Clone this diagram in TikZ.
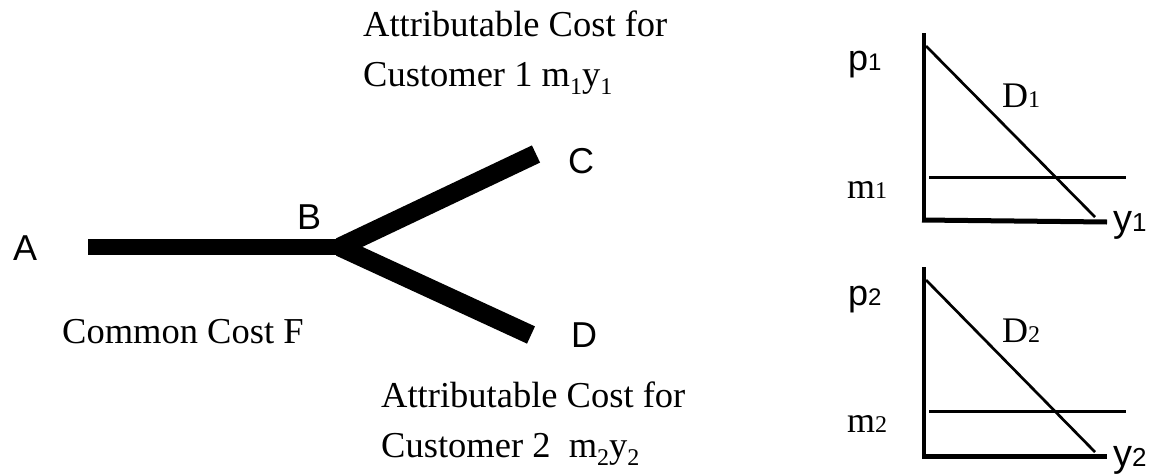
\documentclass[tikz,border=0pt]{standalone}
\usepackage{fontspec}
\setmainfont{Liberation Serif}
\newfontfamily\arialfont{Liberation Sans}
\newcommand\lowsub[1]{\raisebox{-8pt}{\fontsize{24}{24}\selectfont #1}}
\newcommand\flatsub[2]{{\fontsize{#1}{#1}\selectfont #2}}
\begin{document}
\begin{tikzpicture}[x=1pt,y=-1pt,
  serif/.style={inner sep=0pt, anchor=base west, align=left, font=\fontsize{36.5}{50}\selectfont},
  sans/.style={inner sep=0pt, anchor=base west, font=\arialfont\fontsize{36}{40}\selectfont},
  glabel/.style={inner sep=0pt, anchor=base west},
  gsans/.style={glabel, font=\arialfont\fontsize{36}{36}\selectfont},
  gserif/.style={glabel, font=\fontsize{36}{36}\selectfont},
  bar/.style={line width=16pt, line cap=butt},
  branch/.style={line width=19pt, line cap=butt},
  axisline/.style={line width=4.5pt, line cap=butt},
  curveline/.style={line width=2.7pt},
  mline/.style={line width=3pt}]
\useasboundingbox (0,0) rectangle (1153,474);

% labels of the cost tree
\node[sans] (A) at (13,260) {A};
\node[sans] (B) at (297,229) {B};
\node[sans] (C) at (568,173) {C};
\node[sans] (D) at (571,347) {D};

\coordinate (a0) at (88,247);
\coordinate (b0) at (340,247);
\coordinate (c0) at (536,154);
\coordinate (d0) at (531,335);
\draw[bar] (a0) -- (b0);
\draw[branch] (b0) -- (c0);
\draw[branch] (b0) -- (d0);

\node[serif] (top) at (363,86) {Attributable Cost for\\Customer 1 m\lowsub{1}y\lowsub{1}};
\node[serif] (bot) at (381,457) {Attributable Cost for\\Customer 2\ \ m\lowsub{2}y\lowsub{2}};
\node[serif] (common) at (62,343) {Common Cost F};

% graph 1
\coordinate (v1t) at (924,33);
\coordinate (v1b) at (924,222);
\coordinate (h1l) at (922,220);
\coordinate (h1r) at (1107,222);
\coordinate (d1t) at (926,46);
\coordinate (d1b) at (1095,217);
\coordinate (m1l) at (929,177);
\coordinate (m1r) at (1126,177);
\draw[axisline] (v1t) -- (v1b);
\draw[axisline, line width=5pt] (h1l) -- (h1r);
\draw[curveline] (d1t) -- (d1b);
\draw[mline] (m1l) -- (m1r);
\node[gsans] (p1) at (848,70) {p\flatsub{24}{1}};
\node[gserif] (D1) at (1002,107) {D\flatsub{24}{1}};
\node[gserif] (m1) at (847,198) {m\flatsub{24}{1}};
\node[gsans, font=\arialfont\fontsize{38}{38}\selectfont] (y1) at (1113,231) {y\flatsub{26}{1}};

% graph 2
\coordinate (v2t) at (924,267);
\coordinate (v2b) at (924,458);
\coordinate (h2l) at (922,456);
\coordinate (h2r) at (1107,456);
\coordinate (d2t) at (926,280);
\coordinate (d2b) at (1095,452);
\coordinate (m2l) at (929,411);
\coordinate (m2r) at (1126,411);
\draw[axisline] (v2t) -- (v2b);
\draw[axisline, line width=5pt] (h2l) -- (h2r);
\draw[curveline] (d2t) -- (d2b);
\draw[mline] (m2l) -- (m2r);
\node[gsans] (p2) at (848,305) {p\flatsub{24}{2}};
\node[gserif] (D2) at (1002,342) {D\flatsub{24}{2}};
\node[gserif] (m2) at (847,432) {m\flatsub{24}{2}};
\node[gsans, font=\arialfont\fontsize{38}{38}\selectfont] (y2) at (1113,466) {y\flatsub{26}{2}};
\end{tikzpicture}
\end{document}
